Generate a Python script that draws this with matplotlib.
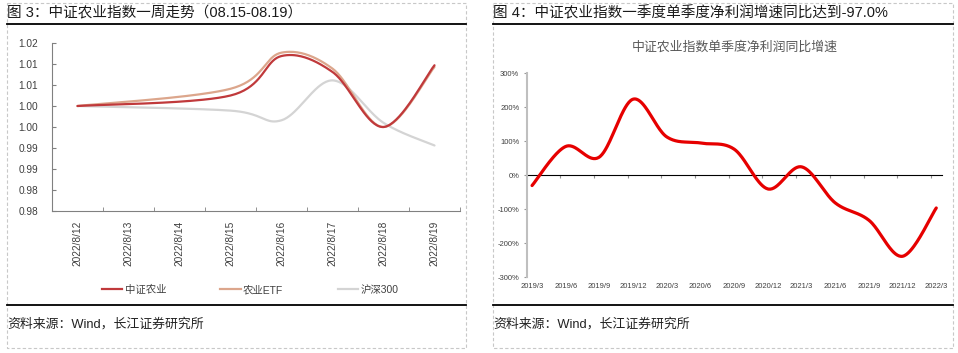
import numpy as np
import pandas as pd
import matplotlib
matplotlib.use('Agg')
from matplotlib import pyplot as plt
from matplotlib.lines import Line2D

plt.rcParams['font.family'] = ['Liberation Sans', 'Noto Sans CJK SC', 'DejaVu Sans']

# left chart: index trend for the week
date_labels = ['2022/8/12', '2022/8/13', '2022/8/14', '2022/8/15',
               '2022/8/16', '2022/8/17', '2022/8/18', '2022/8/19']
trade_dates = ['2022-08-12', '2022-08-15', '2022-08-16', '2022-08-17', '2022-08-18', '2022-08-19']
zz_agri = [1.000, 1.0025, 1.0119, 1.0081, 0.9950, 1.0097]
agri_etf = [1.000, 1.0041, 1.0127, 1.0089, 0.9950, 1.0093]
hs300 = [1.000, 0.9989, 0.9966, 1.0061, 0.9960, 0.9906]
left_yticks = [0.975, 0.98, 0.985, 0.99, 0.995, 1.00, 1.005, 1.01, 1.015]
left_ylabels = ['0.98', '0.98', '0.99', '0.99', '1.00', '1.00', '1.01', '1.01', '1.02']

# right chart: quarterly net profit yoy growth (%)
quarters = ['2019/3', '2019/6', '2019/9', '2019/12', '2020/3', '2020/6', '2020/9',
            '2020/12', '2021/3', '2021/6', '2021/9', '2021/12', '2022/3']
growth = [-31, 84, 53, 223, 112, 94, 76, -41, 24, -82, -133, -239, -97]

W, H = 958, 353


def px_rect(l, t, r, b):
    return [l / W, 1 - b / H, (r - l) / W, (b - t) / H]


def smooth(ax, xs, ys, n=40):
    # excel-like bezier smoothing done in screen space
    pts = ax.transData.transform(np.column_stack([xs, ys]))
    p = np.vstack([pts[0], pts, pts[-1]])
    out = []
    for i in range(1, len(p) - 2):
        p0, p1, p2, p3 = p[i - 1], p[i], p[i + 1], p[i + 2]
        c1 = p1 + (p2 - p0) / 6
        c2 = p2 - (p3 - p1) / 6
        t = np.linspace(0, 1, n)[:, None]
        seg = (1 - t) ** 3 * p1 + 3 * (1 - t) ** 2 * t * c1 + 3 * (1 - t) * t ** 2 * c2 + t ** 3 * p2
        out.append(seg if i == 1 else seg[1:])
    out = np.vstack(out)
    d = ax.transData.inverted().transform(out)
    return d[:, 0], d[:, 1]


fig = plt.figure(figsize=(W / 100, H / 100), dpi=100)

# frames, titles, sources
frame = fig.add_axes([0, 0, 1, 1], facecolor='none')
frame.set_xlim(0, W)
frame.set_ylim(H, 0)
frame.axis('off')
for l, r in [(7, 466), (493, 953)]:
    frame.plot([l, r, r, l, l], [3, 3, 348, 348, 3], ls=(0, (3, 2)), color='#c8c8c8', lw=0.8)
    frame.plot([l, r], [24, 24], color='black', lw=1.3)
    frame.plot([l, r], [305, 305], color='black', lw=1.3)
    frame.text(l, 324, '资料来源：Wind，长江证券研究所', fontsize=9.3, va='center', ha='left', color='#222222')
frame.text(7, 13, '图 3：中证农业指数一周走势（08.15-08.19）', fontsize=10.5, va='center', ha='left', color='#1a1a1a')
frame.text(493, 13, '图 4：中证农业指数一季度单季度净利润增速同比达到-97.0%', fontsize=10.5, va='center', ha='left',
           color='#1a1a1a')

# ---- left chart
ax1 = fig.add_axes(px_rect(52, 43, 460, 211))
ax1.set_xlim(-0.5, 7.5)
ax1.set_ylim(0.975, 1.015)
days = (pd.to_datetime(trade_dates) - pd.Timestamp('2022-08-12')).days.values
series = [(zz_agri, '中证农业', '#c0393b'), (agri_etf, '农业ETF', '#dca68c'), (hs300, '沪深300', '#d4d4d4')]
handles = []
for vals, name, col in series[::-1]:
    sx, sy = smooth(ax1, days, vals)
    ax1.plot(sx, sy, color=col, lw=1.6, solid_capstyle='round')
for vals, name, col in series:
    handles.append(Line2D([], [], color=col, lw=1.6, label=name))
ax1.set_xticks(np.arange(len(date_labels)))
ax1.set_xticklabels(date_labels, rotation=90, fontsize=7.3, color='#404040')
ax1.set_xticks(np.arange(len(date_labels) + 1) - 0.5, minor=True)
ax1.tick_params(axis='x', which='major', length=0, pad=7)
ax1.tick_params(axis='x', which='minor', length=3, direction='in', color='#808080')
ax1.set_yticks(left_yticks)
ax1.set_yticklabels(left_ylabels, fontsize=7.3, color='#404040')
ax1.tick_params(axis='y', length=3, direction='in', color='#808080', pad=10)
for s in ['top', 'right']:
    ax1.spines[s].set_visible(False)
for s in ['left', 'bottom']:
    ax1.spines[s].set_color('#808080')
    ax1.spines[s].set_linewidth(0.8)
fig.legend(handles=handles, loc='center', bbox_to_anchor=(250 / W, 1 - 290 / H), ncol=3, frameon=False,
           fontsize=7.5, handlelength=2.0, handletextpad=0.2, columnspacing=5.2,
           labelcolor='#404040')

# ---- right chart
ax2 = fig.add_axes(px_rect(527, 73, 942, 277))
ax2.set_xlim(-0.15, 12.17)
ax2.set_ylim(-300, 300)
qx = np.arange(len(quarters))
sx, sy = smooth(ax2, qx, growth)
ax2.plot(sx, sy, color='#e60000', lw=2.3, solid_capstyle='round')
ax2.set_yticks(np.arange(-300, 301, 100))
ax2.set_yticklabels([f'{v}%' for v in range(-300, 301, 100)], fontsize=5.5, color='#404040')
ax2.tick_params(axis='y', length=2.5, color='#999999', pad=3)
ax2.set_xticks(qx)
ax2.set_xticklabels(quarters, fontsize=5.5, color='#404040')
ax2.tick_params(axis='x', length=0, pad=4)
for s in ['top', 'right', 'bottom']:
    ax2.spines[s].set_visible(False)
ax2.spines['left'].set_color('#bfbfbf')
ax2.spines['left'].set_linewidth(1.5)
zero = ax2.secondary_xaxis(0.5)
zero.set_xticks(qx - 0.16)
zero.set_xticklabels([])
zero.tick_params(length=2.5, direction='in', color='#909090')
zero.spines['bottom'].set_color('#808080')
zero.spines['bottom'].set_linewidth(0.9)
ax2.set_title('中证农业指数单季度净利润同比增速', fontsize=9.3, color='#595959', pad=16)

fig.savefig('out.png', dpi=100)
